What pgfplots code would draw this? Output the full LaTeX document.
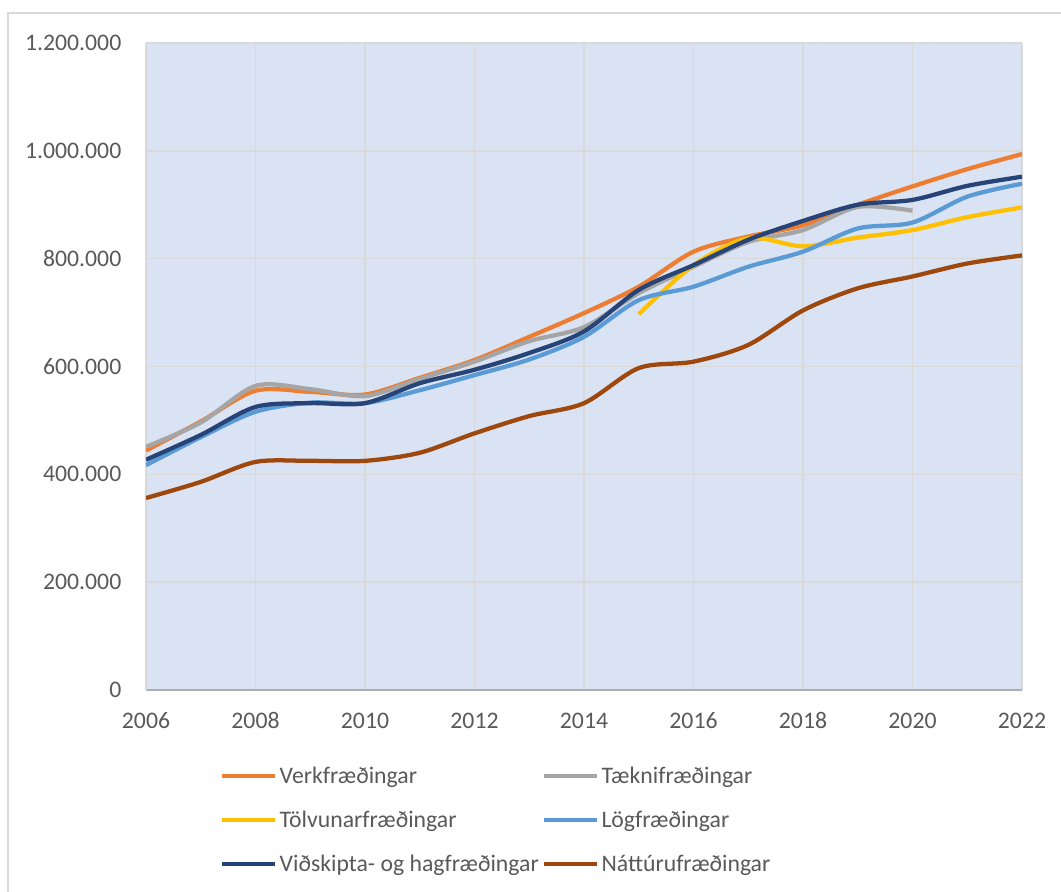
\documentclass[border=0pt]{standalone}
\usepackage{pgfplots}
\pgfplotsset{compat=1.18}
\usepackage{fontspec}
\setmainfont{Carlito}
\definecolor{cOrange}{HTML}{ED7D31}
\definecolor{cGray}{HTML}{A5A5A5}
\definecolor{cYellow}{HTML}{FFC000}
\definecolor{cLBlue}{HTML}{5B9BD5}
\definecolor{cDBlue}{HTML}{264478}
\definecolor{cBrown}{HTML}{9E480E}
\definecolor{cBg}{HTML}{DAE3F3}
\definecolor{cGrid}{HTML}{D9D9D9}
\definecolor{cText}{HTML}{595959}
\begin{document}
\begin{tikzpicture}
\begin{axis}[
  at={(0,0)}, anchor=south west,
  scale only axis,
  width=657pt, height=485.25pt,
  xmin=2006, xmax=2022, ymin=0, ymax=1200000,
  xtick={2006,2008,...,2022},
  ytick={0,200000,...,1200000},
  scaled y ticks=false,
  axis background/.style={fill=cBg},
  grid=major,
  major grid style={cGrid, line width=1.2pt},
  axis x line*=bottom, axis y line*=left,
  x axis line style={draw=cGrid!80!black, line width=1pt, -},
  y axis line style={draw=cGrid, line width=1pt, -},
  major tick length=0pt,
  tick style={draw=none},
  ticklabel style={text=cText, font=\fontsize{17.8}{21}\selectfont},
  /pgf/number format/assume math mode=true,
  yticklabel style={/pgf/number format/fixed, /pgf/number format/precision=0, /pgf/number format/1000 sep={.}, xshift=-15pt},
  xticklabel style={/pgf/number format/1000 sep={}, text height=12.5pt, text depth=0pt, yshift=-13pt},
  legend columns=2,
  legend cell align=left,
  legend style={at={(0.4,-0.201)}, anchor=center, draw=none, fill=none,
    font=\fontsize{17.8}{21}\selectfont, text=cText,
    /tikz/every even column/.append style={column sep=0pt},
    row sep=15pt},
  legend image code/.code={\draw[#1, line width=3pt] (0pt,0pt) -- (40pt,0pt);},
  every axis plot/.append style={line width=3.2pt, smooth, tension=0.5},
]
\addplot[cOrange] coordinates {(2006,444000)(2007,498000)(2008,555000)(2009,553000)(2010,548000)(2011,579000)(2012,612000)(2013,655000)(2014,699000)(2015,748000)(2016,813000)(2017,841000)(2018,862000)(2019,900000)(2020,934000)(2021,966000)(2022,994000)};
\addlegendentry{Verkfræðingar}
\addplot[cGray] coordinates {(2006,451000)(2007,496000)(2008,564000)(2009,558000)(2010,545000)(2011,577000)(2012,609000)(2013,647000)(2014,673000)(2015,736000)(2016,785000)(2017,831000)(2018,853000)(2019,896000)(2020,889000)};
\addlegendentry{Tæknifræðingar}
\addplot[cYellow] coordinates {(2015,697000)(2016,788000)(2017,838000)(2018,823000)(2019,839000)(2020,853000)(2021,877000)(2022,895000)};
\addlegendentry{Tölvunarfræðingar}
\addplot[cLBlue] coordinates {(2006,417000)(2007,469000)(2008,516000)(2009,533000)(2010,532000)(2011,556000)(2012,584000)(2013,613000)(2014,655000)(2015,723000)(2016,748000)(2017,785000)(2018,813000)(2019,856000)(2020,867000)(2021,915000)(2022,939000)};
\addlegendentry{Lögfræðingar}
\addplot[cDBlue] coordinates {(2006,427000)(2007,473000)(2008,525000)(2009,532000)(2010,532000)(2011,569000)(2012,594000)(2013,625000)(2014,665000)(2015,742000)(2016,788000)(2017,835000)(2018,870000)(2019,900000)(2020,909000)(2021,935000)(2022,952000)};
\addlegendentry{Viðskipta- og hagfræðingar}
\addplot[cBrown] coordinates {(2006,356000)(2007,386000)(2008,423000)(2009,425000)(2010,425000)(2011,440000)(2012,476000)(2013,508000)(2014,532000)(2015,597000)(2016,609000)(2017,640000)(2018,704000)(2019,745000)(2020,767000)(2021,791000)(2022,806000)};
\addlegendentry{Náttúrufræðingar}
\end{axis}
\draw[cGrid, line width=1pt] (-103.5pt,-160pt) -- (-103.5pt,507.75pt) -- (700pt,507.75pt);
\pgfresetboundingbox
\path[use as bounding box] (-109.5pt,-151.5pt) rectangle (686.25pt,517.5pt);
\end{tikzpicture}
\end{document}
